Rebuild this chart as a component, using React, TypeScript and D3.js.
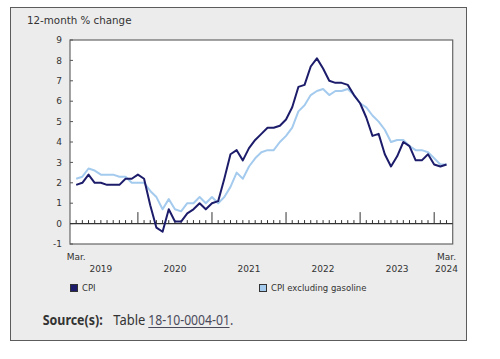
import React from "react";
import * as d3 from "d3";

const yearLabels = ["2019", "2020", "2021", "2022", "2023"];
const yTicks = [-1, 0, 1, 2, 3, 4, 5, 6, 7, 8, 9];
const seriesNames = ["CPI", "CPI excluding gasoline"];
const startYear = 2019;
const startMonth = 2; // March (0-based)

const cpi = [
  1.9, 2.0, 2.4, 2.0, 2.0, 1.9, 1.9, 1.9, 2.2, 2.2,
  2.4, 2.2, 0.9, -0.2, -0.4, 0.7, 0.1, 0.1, 0.5, 0.7, 1.0, 0.7,
  1.0, 1.1, 2.2, 3.4, 3.6, 3.1, 3.7, 4.1, 4.4, 4.7, 4.7, 4.8,
  5.1, 5.7, 6.7, 6.8, 7.7, 8.1, 7.6, 7.0, 6.9, 6.9, 6.8, 6.3,
  5.9, 5.2, 4.3, 4.4, 3.4, 2.8, 3.3, 4.0, 3.8, 3.1, 3.1, 3.4,
  2.9, 2.8, 2.9,
];

const cpiExGas = [
  2.2, 2.3, 2.7, 2.6, 2.4, 2.4, 2.4, 2.3, 2.3, 2.0,
  2.0, 2.0, 1.6, 1.3, 0.7, 1.2, 0.7, 0.6, 1.0, 1.0, 1.3, 1.0,
  1.3, 1.0, 1.3, 1.8, 2.5, 2.2, 2.8, 3.2, 3.5, 3.6, 3.6, 4.0,
  4.3, 4.7, 5.5, 5.8, 6.3, 6.5, 6.6, 6.3, 6.5, 6.5, 6.6, 6.3,
  5.9, 5.7, 5.3, 5.0, 4.6, 4.0, 4.1, 4.1, 3.8, 3.6, 3.6, 3.5,
  3.2, 2.9, 2.9,
];

const DARK = "#1c1c6b";
const LIGHT = "#a4cbee";
const AXIS_FONT = "DejaVu Sans, Verdana, sans-serif";
const SRC_FONT = "Noto Sans, Open Sans, sans-serif";

export default function App() {
  const W = 500;
  const H = 359;
  const left = 70, right = 452.7, top = 40, bottom = 244;
  const n = cpi.length;

  const x = d3.scaleLinear().domain([-1, n]).range([left, right]);
  const y = d3.scaleLinear().domain([-1, 9]).range([bottom, top]);

  const line = d3
    .line<number>()
    .x((_, i) => x(i))
    .y((d) => y(d));

  const months = d3.range(n).map((i) => (startMonth + i) % 12);

  return (
    <svg
      width={W}
      height={H}
      style={{ position: "fixed", left: 0, top: 0, display: "block", background: "#fff" }}
    >
      <rect x={10.5} y={7.5} width={456} height={333} fill="#ececec" stroke="#5c5c5c" strokeWidth={1} />
      <text x={27} y={24} fontFamily={AXIS_FONT} fontSize={10.3} fill="#333">
        12-month % change
      </text>
      <rect x={left} y={top} width={right - left} height={bottom - top} fill="#fff" stroke="#666" strokeWidth={1.2} />

      {yTicks.map((t) => (
        <g key={t}>
          <line x1={left} x2={left + 3} y1={y(t)} y2={y(t)} stroke="#555" strokeWidth={1} />
          <text x={62} y={y(t) + 3.2} textAnchor="end" fontFamily={AXIS_FONT} fontSize={9} fill="#333">
            {t}
          </text>
        </g>
      ))}

      <line x1={left} x2={right} y1={y(0)} y2={y(0)} stroke="#333" strokeWidth={1.2} />
      {months.map((m, i) => (
        <line
          key={i}
          x1={x(i)}
          x2={x(i)}
          y1={y(0)}
          y2={y(0) - (m === 0 ? 11.5 : 3.5)}
          stroke="#333"
          strokeWidth={1}
        />
      ))}

      <path d={line(cpiExGas) || ""} fill="none" stroke={LIGHT} strokeWidth={2} strokeLinejoin="round" />
      <path d={line(cpi) || ""} fill="none" stroke={DARK} strokeWidth={2} strokeLinejoin="round" />

      <text x={x(0)} y={260} textAnchor="middle" fontFamily={AXIS_FONT} fontSize={9} fill="#333">Mar.</text>
      <text x={x(n - 1)} y={260} textAnchor="middle" fontFamily={AXIS_FONT} fontSize={9} fill="#333">Mar.</text>
      {yearLabels.map((yl, k) => {
        const janIdx = 12 * k - startMonth;
        const pos = (x(janIdx) + x(janIdx + 12)) / 2;
        return (
          <text key={yl} x={pos} y={272} textAnchor="middle" fontFamily={AXIS_FONT} fontSize={9} fill="#333">
            {yl}
          </text>
        );
      })}
      <text x={x(n - 1)} y={272} textAnchor="middle" fontFamily={AXIS_FONT} fontSize={9} fill="#333">
        {String(startYear + Math.floor((startMonth + n - 1) / 12))}
      </text>

      <rect x={70.5} y={284.5} width={7} height={7} fill={DARK} stroke="#333" strokeWidth={1} />
      <text x={82} y={291} fontFamily={AXIS_FONT} fontSize={8.5} fill="#333">{seriesNames[0]}</text>
      <rect x={259.5} y={284.5} width={7} height={7} fill={LIGHT} stroke="#333" strokeWidth={1} />
      <text x={271} y={291} fontFamily={AXIS_FONT} fontSize={8.5} fill="#333">{seriesNames[1]}</text>

      <text x={42.7} y={325} fontFamily={SRC_FONT} fontSize={14.5} fontWeight="bold" fill="#333" textLength={60} lengthAdjust="spacingAndGlyphs">
        Source(s):
      </text>
      <text x={113.3} y={325} fontFamily={SRC_FONT} fontSize={14.5} fill="#333" textLength={32} lengthAdjust="spacingAndGlyphs">
        Table
      </text>
      <text x={148.3} y={325} fontFamily={SRC_FONT} fontSize={14.5} fill="#4a4a5a" textLength={85} lengthAdjust="spacingAndGlyphs">
        18-10-0004-01.
      </text>
      <line x1={148.3} x2={229.5} y1={327.5} y2={327.5} stroke="#4a4a5a" strokeWidth={1} />
    </svg>
  );
}
